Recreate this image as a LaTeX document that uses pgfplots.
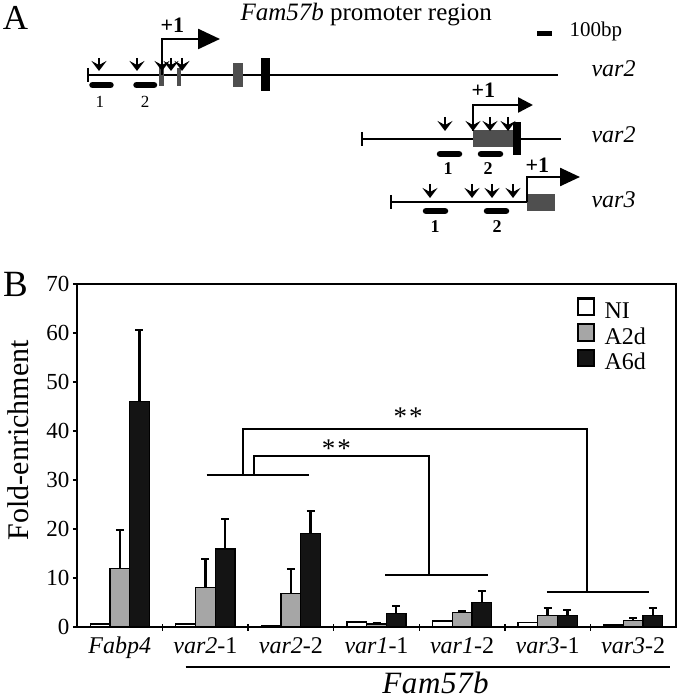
\documentclass[border=0pt]{standalone}
\usepackage{fontspec}
\setmainfont{Liberation Serif}
\usepackage{pgfplots}
\pgfplotsset{compat=1.18}
\usetikzlibrary{arrows.meta}
\definecolor{gA}{HTML}{A6A6A6}
\definecolor{gB}{HTML}{141414}
\definecolor{ex}{HTML}{4F4F4F}
\newcommand{\fs}[1]{\fontsize{#1}{#1}\selectfont}
\tikzset{
  da/.style={line width=1.8pt,-{Stealth[length=10pt,width=15pt,inset=4pt]}},
  pr/.style={line width=6.5pt,line cap=round},
  gl/.style={line width=2.5pt},
}
\pgfplotsset{sqlegend/.style={legend image code/.code={\draw[##1,line width=2.2pt] (0pt,-3.5pt) rectangle (16pt,13pt);}}}
\begin{document}
\begin{tikzpicture}
\useasboundingbox (-77pt,-72pt) rectangle (603pt,627pt);
% ---------------- Panel B ----------------
\begin{axis}[width=599pt,height=343pt,scale only axis,
  xmin=-0.5,xmax=6.5,ymin=0,ymax=70,
  ybar=0pt,bar width=0.23,
  clip=false,
  axis line style={line width=2pt},
  tick style={line width=1.5pt,black},
  tick align=outside,tick pos=left,
  major tick length=4pt,
  ytick={0,10,...,70},
  yticklabel style={font=\fs{23}},
  /pgf/number format/assume math mode=true,
  xtick={0,...,6},
  xticklabels={\textit{Fabp4},\textit{var2}-1,\textit{var2}-2,\textit{var1}-1,\textit{var1}-2,\textit{var3}-1,\textit{var3}-2},
  xticklabel style={font=\fs{24},anchor=base,yshift=-22.5pt},
  xtick style={draw=none},
  extra x ticks={0.5,1.5,2.5,3.5,4.5,5.5},
  extra x tick labels={},
  extra x tick style={tick align=center,major tick length=7pt,xtick style={draw=black,line width=1.5pt}},
  ylabel={Fold-enrichment},
  ylabel style={font=\fs{30},at={(axis description cs:-0.0985,0.545)},anchor=center},
  legend style={draw=none,fill=none,at={(axis cs:5.34,67.3)},anchor=north west,inner sep=0pt,
    row sep=0pt,column sep=8pt,font=\fs{24},nodes={inner sep=1.5pt,text height=17pt,text depth=3pt}},
  legend cell align=left,
]
\addplot[fill=white,draw=black,line width=1.3pt,bar shift=-0.23,sqlegend]
  coordinates {(0,0.6) (1,0.6) (2,0.3) (3,1.0) (4,1.2) (5,0.9) (6,0.4)};
\addlegendentry{NI}
\addplot[fill=gA,draw=black,line width=1.3pt,bar shift=0,sqlegend,
  error bars/.cd,y dir=plus,y explicit,
  error bar style={line width=2.5pt,black},
  error mark options={rotate=90,line width=2pt,mark size=4pt,black}]
  coordinates {(0,12) +- (0,7.7) (1,8.1) +- (0,5.8) (2,6.9) +- (0,4.9) (3,0.6) +- (0,0.2)
               (4,3.0) +- (0,0.3) (5,2.4) +- (0,1.5) (6,1.3) +- (0,0.5)};
\addlegendentry{A2d}
\addplot[fill=gB,draw=black,line width=1.3pt,bar shift=0.23,sqlegend,
  error bars/.cd,y dir=plus,y explicit,
  error bar style={line width=2.5pt,black},
  error mark options={rotate=90,line width=2pt,mark size=4pt,black}]
  coordinates {(0,46) +- (0,14.6) (1,15.9) +- (0,6.1) (2,19.1) +- (0,4.6) (3,2.8) +- (0,1.5)
               (4,5.0) +- (0,2.4) (5,2.4) +- (0,1.1) (6,2.4) +- (0,1.5)};
\addlegendentry{A6d}
% significance brackets
\draw[line width=2pt] (axis cs:1.015,31) -- (axis cs:2.21,31);
\draw[line width=2pt] (axis cs:3.10,10.6) -- (axis cs:4.30,10.6);
\draw[line width=2pt] (axis cs:4.99,7.2) -- (axis cs:6.19,7.2);
\draw[line width=2pt] (axis cs:1.57,31) -- (axis cs:1.57,34.9) -- (axis cs:3.61,34.9) -- (axis cs:3.61,10.6);
\draw[line width=2pt] (axis cs:1.44,31) -- (axis cs:1.44,40.5) -- (axis cs:5.46,40.5) -- (axis cs:5.46,7.2);
\node[anchor=north,inner sep=0pt,font=\fs{27}] at (axis cs:2.53,38.2) {*\kern2pt*};
\node[anchor=north,inner sep=0pt,font=\fs{27}] at (axis cs:3.37,44.7) {*\kern2pt*};
% Fam57b underline and label
\draw[line width=2pt] (axis cs:0.77,-8.1) -- (axis cs:6.43,-8.1);
\node[anchor=base,font=\fs{31}\itshape] at (axis cs:3.69,-13.5) {F\kern0.6pt a\kern0.6pt m\kern0.6pt 5\kern0.6pt 7\kern0.6pt b};
\end{axis}
% ---------------- Panel A (schematic, pixel coordinates from top-left) ----------------
\begin{scope}[shift={(-77pt,627pt)},x=1pt,y=-1pt]
\node[anchor=base,font=\fs{35}] at (15.5,30) {A};
\node[anchor=base,font=\fs{37}] at (15.5,297) {B};
\node[anchor=base west,font=\fs{25}] at (237,20.5) {\textit{Fam57b} promoter region};
\fill[black] (537,31) rectangle (552,36);
\node[anchor=base west,font=\fs{21}] at (566,37) {100bp};
% row 1
\draw[gl] (88,75) -- (558,75);
\draw[line width=2pt] (88,68) -- (88,82);
\fill[ex] (159,65) rectangle (164,86);
\fill[ex] (177,68) rectangle (181,86);
\fill[ex] (233,63) rectangle (243,87);
\fill[black] (261,58) rectangle (270,91);
\draw[pr] (92.5,85) -- (110.5,85);
\draw[pr] (136.5,85) -- (154,85);
\foreach \xx in {99,137,162,171,182} {\draw[da] (\xx,58) -- (\xx,71);}
\draw[line width=2.5pt,line join=miter,-{Triangle[length=22pt,width=20pt]}] (162,75) -- (162,39) -- (220,39);
\node[anchor=base west,font=\fs{22}\bfseries] at (157,33) {+1};
\node[anchor=base,font=\fs{17}] at (100,108) {1};
\node[anchor=base,font=\fs{17}] at (145,108) {2};
\node[anchor=base west,font=\fs{24}\itshape] at (588,77) {var2};
% row 2
\draw[gl] (362,139) -- (561,139);
\draw[line width=2pt] (362,132) -- (362,146);
\fill[ex] (473,130) rectangle (513,147);
\fill[black] (513,122) rectangle (521,155);
\foreach \xx in {445,473,490,508} {\draw[da] (\xx,117) -- (\xx,131);}
\draw[line width=2.5pt,line join=miter,-{Triangle[length=15pt,width=15pt]}] (473,131) -- (473,105) -- (533,105);
\node[anchor=base west,font=\fs{22}\bfseries] at (468,98) {+1};
\draw[pr] (440,154) -- (459,154);
\draw[pr] (481,154) -- (500,154);
\node[anchor=base,font=\fs{18}\bfseries] at (448,175) {1};
\node[anchor=base,font=\fs{18}\bfseries] at (488,175) {2};
\node[anchor=base west,font=\fs{24}\itshape] at (588,143) {var2};
% row 3
\draw[gl] (391,202) -- (527,202);
\draw[line width=2pt] (391,195) -- (391,209);
\fill[ex] (527,194) rectangle (555,211);
\foreach \xx in {430,472,492,513} {\draw[da] (\xx,184) -- (\xx,198);}
\draw[line width=2.5pt,line join=miter,-{Triangle[length=20pt,width=18pt]}] (527,202) -- (527,177) -- (580,177);
\node[anchor=base west,font=\fs{22}\bfseries] at (522,173) {+1};
\draw[pr] (426,211) -- (445,211);
\draw[pr] (487,211) -- (506,211);
\node[anchor=base,font=\fs{18}\bfseries] at (435,233) {1};
\node[anchor=base,font=\fs{18}\bfseries] at (497,233) {2};
\node[anchor=base west,font=\fs{24}\itshape] at (588,208) {var3};
\end{scope}
\end{tikzpicture}
\end{document}
